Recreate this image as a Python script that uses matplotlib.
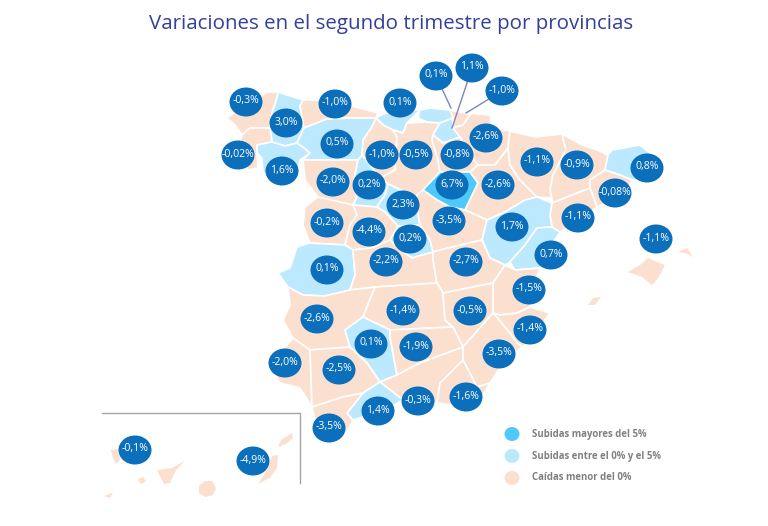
import matplotlib
matplotlib.use('Agg')
import matplotlib.pyplot as plt
from matplotlib.patches import Ellipse, Polygon

plt.rcParams['font.family'] = ['Open Sans', 'DejaVu Sans']

# variacion trimestral por provincia
provinces = ['A Coruña', 'Lugo', 'Pontevedra', 'Ourense', 'Asturias', 'León', 'Cantabria', 'Palencia',
             'Burgos', 'Bizkaia', 'Álava', 'Gipuzkoa', 'Navarra', 'La Rioja', 'Zamora', 'Valladolid',
             'Soria', 'Zaragoza', 'Huesca', 'Lleida', 'Girona', 'Barcelona', 'Tarragona', 'Segovia',
             'Salamanca', 'Ávila', 'Madrid', 'Guadalajara', 'Teruel', 'Castellón', 'Cáceres', 'Toledo',
             'Cuenca', 'Valencia', 'Badajoz', 'Ciudad Real', 'Albacete', 'Alicante', 'Córdoba', 'Jaén',
             'Murcia', 'Huelva', 'Sevilla', 'Granada', 'Almería', 'Málaga', 'Cádiz', 'Baleares',
             'Tenerife', 'Las Palmas']
values = [-0.3, 3.0, -0.02, 1.6, -1.0, 0.5, 0.1, -1.0,
          -0.5, 0.1, 1.1, -1.0, -2.6, -0.8, -2.0, 0.2,
          6.7, -2.6, -1.1, -0.9, 0.8, -0.08, -1.1, 2.3,
          -0.2, -4.4, 0.2, -3.5, 1.7, 0.7, 0.1, -2.2,
          -2.7, -1.5, -2.6, -1.4, -0.5, -1.4, 0.1, -1.9,
          -3.5, -2.0, -2.5, -0.3, -1.6, 1.4, -3.5, -1.1,
          -0.1, -4.9]
bubble_x = [246, 286, 238, 282, 335, 337, 400, 382,
            416, 436, 472, 502, 486, 457, 333, 369,
            452, 498, 537, 577, 647, 615, 578, 403,
            327, 369, 410, 449, 512, 551, 327, 386,
            466, 529, 317, 403, 470, 530, 371, 416,
            499, 285, 339, 418, 466, 378, 329, 656,
            135, 253]
bubble_y = [102, 123, 155, 171, 104, 144, 103, 155,
            155, 76, 68, 91, 138, 155, 182, 185,
            185, 185, 162, 165, 168, 193, 218, 205,
            223, 232, 239, 221, 227, 255, 270, 262,
            262, 290, 319, 311, 311, 330, 344, 347,
            354, 363, 370, 401, 397, 411, 428, 239,
            450, 461]

# limites aproximados de cada provincia, en pixeles de la imagen
outlines = {
    'A Coruña': [(227, 118), (240, 108), (255, 100), (267, 92), (278, 92), (277, 98), (272, 113), (270, 128),
                 (250, 128), (242, 135), (235, 125)],
    'Lugo': [(278, 92), (287, 95), (303, 100), (300, 106), (304, 128), (297, 143), (285, 146), (272, 142),
             (270, 128), (272, 113), (277, 98)],
    'Pontevedra': [(242, 135), (250, 128), (270, 128), (272, 142), (257, 145), (257, 153), (258, 168), (248, 170),
                   (238, 150)],
    'Ourense': [(257, 145), (272, 142), (285, 146), (297, 143), (303, 147), (310, 153), (300, 160), (297, 175),
                (283, 186), (263, 172), (262, 158), (257, 153)],
    'Asturias': [(303, 100), (325, 100), (352, 106), (378, 113), (376, 118), (350, 118), (327, 119), (304, 128),
                 (300, 106)],
    'León': [(304, 128), (327, 119), (350, 118), (376, 118), (372, 127), (363, 140), (362, 155), (358, 160),
             (330, 160), (303, 160), (310, 153), (303, 147), (297, 143)],
    'Cantabria': [(376, 118), (383, 114), (405, 110), (420, 110), (407, 123), (403, 133), (393, 130), (383, 125)],
    'Palencia': [(372, 127), (376, 118), (383, 125), (393, 130), (397, 137), (395, 170), (380, 178), (362, 155),
                 (363, 140)],
    'Burgos': [(393, 130), (403, 133), (407, 123), (427, 122), (440, 123), (433, 135), (432, 140), (438, 160),
               (440, 172), (423, 190), (415, 197), (405, 192), (388, 184), (380, 178), (395, 170), (397, 137)],
    'Bizkaia': [(420, 110), (430, 108), (450, 110), (453, 118), (440, 123), (427, 122), (418, 118)],
    'Álava': [(433, 135), (440, 123), (453, 118), (453, 128), (460, 137), (443, 143)],
    'Gipuzkoa': [(450, 110), (465, 113), (470, 115), (463, 125), (453, 128), (453, 118)],
    'Navarra': [(465, 113), (490, 115), (492, 128), (510, 131), (508, 148), (495, 165), (478, 165), (470, 155),
                (460, 137), (453, 128), (463, 125), (470, 115)],
    'La Rioja': [(433, 135), (443, 143), (460, 137), (470, 155), (478, 165), (470, 172), (440, 172), (438, 160),
                 (432, 140)],
    'Zamora': [(303, 160), (330, 160), (358, 160), (353, 185), (357, 197), (353, 205), (325, 200), (318, 197),
               (305, 180)],
    'Valladolid': [(358, 160), (362, 155), (380, 178), (388, 184), (385, 195), (377, 207), (353, 205), (357, 197),
                   (353, 185)],
    'Soria': [(423, 190), (440, 172), (470, 172), (478, 183), (465, 210), (450, 207), (437, 200)],
    'Zaragoza': [(470, 172), (478, 165), (495, 165), (508, 148), (510, 165), (520, 180), (537, 197), (525, 200),
                 (505, 212), (487, 220), (465, 210), (478, 183)],
    'Huesca': [(510, 131), (535, 137), (562, 134), (566, 150), (553, 175), (550, 190), (552, 198), (537, 197),
               (520, 180), (510, 165), (508, 148)],
    'Lleida': [(562, 134), (582, 145), (597, 150), (608, 155), (605, 170), (590, 180), (590, 188), (552, 203),
               (552, 198), (550, 190), (553, 175), (566, 150)],
    'Girona': [(608, 155), (612, 150), (640, 145), (650, 153), (652, 165), (645, 178), (632, 180), (620, 175),
               (605, 170)],
    'Barcelona': [(590, 180), (605, 170), (620, 175), (632, 180), (625, 195), (597, 207), (590, 188)],
    'Tarragona': [(552, 203), (590, 188), (597, 207), (578, 222), (560, 232), (552, 227), (550, 215)],
    'Segovia': [(388, 184), (405, 192), (415, 197), (420, 225), (398, 226), (385, 212), (377, 207), (385, 195)],
    'Salamanca': [(318, 197), (353, 205), (357, 215), (350, 225), (345, 245), (310, 243), (303, 225), (305, 207)],
    'Ávila': [(353, 205), (377, 207), (385, 212), (398, 226), (390, 240), (372, 248), (353, 250), (345, 245),
              (350, 225), (357, 215)],
    'Madrid': [(398, 226), (420, 225), (430, 240), (433, 252), (412, 258), (398, 248), (390, 240)],
    'Guadalajara': [(415, 197), (423, 190), (437, 200), (450, 207), (465, 210), (487, 220), (482, 240), (440, 250),
                    (433, 252), (430, 240), (420, 225)],
    'Teruel': [(487, 220), (505, 212), (525, 200), (537, 197), (552, 203), (550, 215), (552, 227), (537, 228),
               (525, 245), (510, 262), (505, 265), (490, 258), (482, 240)],
    'Castellón': [(552, 227), (560, 232), (548, 250), (540, 268), (515, 270), (510, 262), (525, 245), (537, 228)],
    'Cáceres': [(310, 243), (345, 245), (353, 250), (355, 275), (350, 290), (325, 296), (303, 295), (288, 287),
                (278, 273), (290, 268), (297, 247)],
    'Toledo': [(353, 250), (372, 248), (390, 240), (398, 248), (412, 258), (433, 252), (433, 260), (437, 283),
               (375, 287), (350, 290), (355, 275)],
    'Cuenca': [(440, 250), (482, 240), (490, 258), (505, 265), (493, 283), (443, 293), (437, 283), (433, 260),
               (433, 252)],
    'Valencia': [(493, 283), (505, 265), (515, 270), (540, 268), (533, 287), (530, 307), (517, 313), (500, 315),
                 (493, 313)],
    'Badajoz': [(288, 287), (303, 295), (325, 296), (350, 290), (375, 287), (363, 317), (345, 330), (350, 347),
                (310, 350), (293, 338), (283, 320), (290, 305)],
    'Ciudad Real': [(375, 287), (437, 283), (443, 293), (445, 320), (453, 327), (390, 330), (363, 317)],
    'Albacete': [(443, 293), (493, 283), (493, 313), (463, 347), (453, 327), (445, 320)],
    'Alicante': [(493, 313), (500, 315), (517, 313), (530, 307), (550, 313), (540, 327), (523, 347), (517, 343),
                 (510, 333)],
    'Córdoba': [(345, 330), (363, 317), (390, 330), (390, 337), (397, 375), (380, 382), (367, 363), (350, 347)],
    'Jaén': [(390, 330), (453, 327), (463, 347), (420, 363), (397, 375), (390, 337)],
    'Murcia': [(463, 347), (493, 313), (510, 333), (517, 343), (523, 347), (507, 357), (490, 383), (477, 387),
               (463, 360)],
    'Huelva': [(293, 338), (310, 350), (312, 407), (300, 388), (280, 383), (270, 365)],
    'Sevilla': [(310, 350), (350, 347), (367, 363), (380, 382), (363, 393), (343, 397), (312, 407)],
    'Granada': [(397, 375), (420, 363), (463, 347), (463, 360), (440, 383), (437, 403), (403, 400), (380, 382)],
    'Almería': [(463, 360), (477, 387), (490, 383), (483, 395), (467, 407), (437, 403), (440, 383)],
    'Málaga': [(347, 413), (363, 393), (380, 382), (403, 400), (385, 410), (353, 420)],
    'Cádiz': [(312, 407), (343, 397), (363, 393), (347, 413), (353, 421), (343, 438), (327, 442), (315, 420)],
    'Baleares': [(628, 272), (640, 265), (648, 258), (657, 262), (665, 265), (658, 278), (652, 285), (642, 277)],
    'Menorca': [(678, 252), (687, 248), (693, 257), (685, 253)],
    'Ibiza': [(588, 305), (593, 298), (601, 297), (595, 305)],
    'La Palma': [(111, 450), (118, 449), (120, 460), (116, 464), (113, 458)],
    'Tenerife': [(157, 470), (172, 468), (185, 461), (176, 470), (170, 483), (164, 484)],
    'La Gomera': [(138, 479), (143, 477), (146, 481), (142, 484), (139, 482)],
    'El Hierro': [(104, 496), (110, 494), (113, 492), (110, 498)],
    'Gran Canaria': [(199, 486), (205, 481), (212, 481), (216, 488), (213, 495), (205, 497), (199, 493)],
    'Las Palmas': [(272, 456), (278, 455), (277, 468), (270, 478), (258, 484), (268, 468)],
    'Lanzarote': [(278, 447), (281, 440), (292, 433), (293, 438), (286, 444)],
}
# islas dibujadas junto a la provincia de la que dependen
island_of = {'Menorca': 'Baleares', 'Ibiza': 'Baleares', 'La Palma': 'Tenerife', 'La Gomera': 'Tenerife',
             'El Hierro': 'Tenerife', 'Gran Canaria': 'Las Palmas', 'Lanzarote': 'Las Palmas'}
islands = set(island_of) | {'Baleares', 'Tenerife', 'Las Palmas'}

leaders = {'Bizkaia': (451, 108), 'Álava': (452, 128), 'Gipuzkoa': (466, 113)}
legend_labels = ['Subidas mayores del 5%', 'Subidas entre el 0% y el 5%', 'Caídas menor del 0%']
legend_colors = ['#4fc8fb', '#bde9ff', '#fbe0d0']


def band_color(v):
    if v > 5:
        return legend_colors[0]
    if v >= 0:
        return legend_colors[1]
    return legend_colors[2]


def fmt(v):
    return f'{v}'.replace('.', ',') + '%'


fig = plt.figure(figsize=(7.68, 5.26), dpi=100)
ax = fig.add_axes([0, 0, 1, 1])
ax.set_xlim(0, 768)
ax.set_ylim(526, 0)
ax.axis('off')

by_name = dict(zip(provinces, values))
for name, pts in outlines.items():
    v = by_name[island_of.get(name, name)]
    edge = 'none' if name in islands else 'white'
    ax.add_patch(Polygon(pts, closed=True, facecolor=band_color(v), edgecolor=edge, linewidth=1.2, zorder=1))

# recuadro de Canarias
ax.plot([102, 300, 300], [413, 413, 483], color='#a6a6a6', linewidth=1, zorder=2)

for name, end in leaders.items():
    i = provinces.index(name)
    ax.plot([bubble_x[i], end[0]], [bubble_y[i], end[1]], color='#7c86c0', linewidth=1, zorder=2)

for name, v, x, y in zip(provinces, values, bubble_x, bubble_y):
    ax.add_patch(Ellipse((x, y), 33, 29, facecolor='#0b6fbb', edgecolor='none', zorder=3))
    ax.text(x, y - 1, fmt(v), color='white', fontsize=7.6, fontweight='medium',
            ha='center', va='center', zorder=4)

for label, color, y in zip(legend_labels, legend_colors, [434, 456, 478]):
    ax.add_patch(Ellipse((512, y), 15, 14, facecolor=color, edgecolor='none'))
    ax.text(532, y, label, color='#808080', fontsize=6.9, fontweight='bold', va='center')

ax.text(391, 24, 'Variaciones en el segundo trimestre por provincias', color='#333f99',
        fontsize=14.75, ha='center', va='center')

fig.savefig('out.png', dpi=100)
